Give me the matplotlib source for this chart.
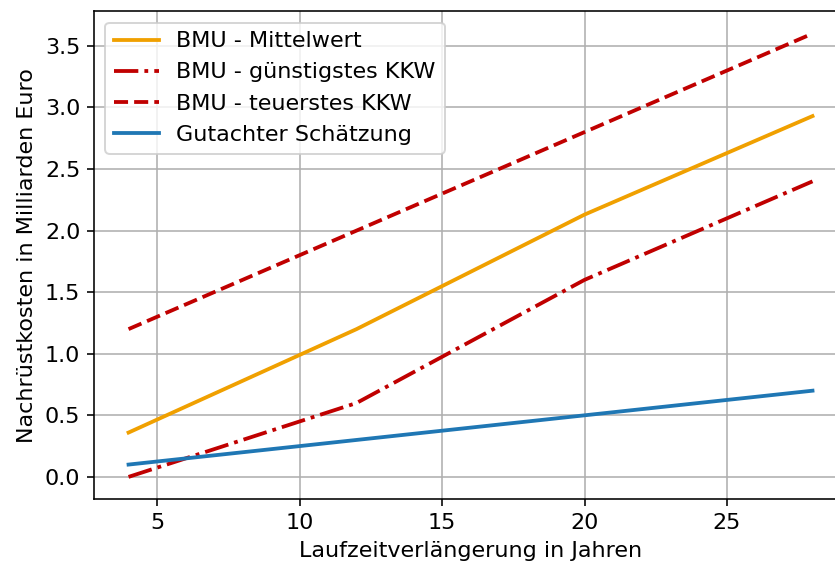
import matplotlib
matplotlib.use("Agg")
import matplotlib.pyplot as plt

years = [4, 12, 20, 28]
bmu_mittel = [0.36, 1.2, 2.13, 2.93]
bmu_guenstig = [0.0, 0.6, 1.6, 2.4]
bmu_teuer = [1.2, 2.0, 2.8, 3.6]
gutachter = [0.1, 0.3, 0.5, 0.7]

plt.rcParams["font.size"] = 11.1
fig = plt.figure(figsize=(835/144, 571/144), dpi=144)
ax = fig.add_axes([0.113, 0.126, 0.901, 0.854])
ax.plot(years, bmu_mittel, color="#f0a000", lw=1.9, label="BMU - Mittelwert")
ax.plot(years, bmu_guenstig, color="#c00000", lw=1.9, ls="-.", label="BMU - günstigstes KKW")
ax.plot(years, bmu_teuer, color="#c00000", lw=1.9, ls="--", label="BMU - teuerstes KKW")
ax.plot(years, gutachter, color="#1f77b4", lw=1.9, label="Gutachter Schätzung")
ax.grid(True)
ax.set_xlabel("Laufzeitverlängerung in Jahren")
ax.set_ylabel("Nachrüstkosten in Milliarden Euro")
ax.legend(loc="upper left")
fig.savefig("out.png", dpi=144)
